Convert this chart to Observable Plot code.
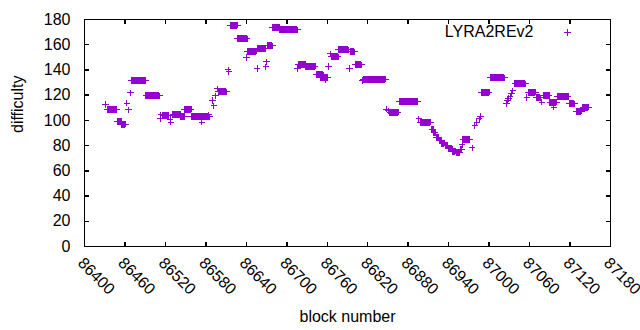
<!DOCTYPE html>
<html><head><meta charset="utf-8">
<script src="https://cdn.jsdelivr.net/npm/d3@7"></script>
<script src="https://cdn.jsdelivr.net/npm/@observablehq/plot@0.6"></script>
<style>html,body{margin:0;padding:0;background:#fff}</style>
</head><body><div id="chart"></div>
<script>
const seriesName = "LYRA2REv2";
const xLabel = "block number";
const yLabel = "difficulty";
const xTicks = [86400, 86460, 86520, 86580, 86640, 86700, 86760, 86820, 86880, 86940, 87000, 87060, 87120, 87180];
const yTicks = [0, 20, 40, 60, 80, 100, 120, 140, 160, 180];

// isolated blocks
const pointBlocks = [86431, 86463, 86465, 86468, 86512, 86513, 86527, 86528, 86574, 86584,
  86590, 86592, 86594, 86597, 86613, 86614, 86640, 86656, 86669, 86670,
  86716, 86757, 86762, 86765, 86793, 86812, 86848, 86851, 86896, 86960,
  86975, 86979, 86982, 86985, 86987, 87026, 87027, 87029, 87031, 87033,
  87035, 87056, 87078, 87096];
const pointValues = [112.5, 113.7, 108.4, 121.9, 101.5, 104.5, 101, 98.6, 98.6, 104.4,
  115.8, 111.5, 119.5, 125, 140, 138.5, 150, 141, 142.5, 146.5,
  141, 132, 142.7, 152.8, 141, 131.5, 109, 107.5, 101.2, 81,
  78.3, 96, 98.6, 101.2, 103.1, 113.5, 116, 117.5, 119, 121,
  123.5, 118, 114.5, 110.5];

// runs of consecutive blocks with the same difficulty
const runStarts = [86434, 86449, 86455, 86469, 86491, 86516, 86531, 86542, 86548, 86558,
  86598, 86616, 86627, 86641, 86657, 86671, 86679, 86689, 86717, 86727,
  86744, 86750, 86766, 86776, 86795, 86802, 86813, 86853, 86867, 86898,
  86915, 86918, 86922, 86926, 86930, 86935, 86940, 86946, 86951, 86957,
  86961, 86989, 87002, 87038, 87058, 87070, 87081, 87090, 87101, 87119,
  87129, 87139];
const runEnds = [86448, 86455, 86461, 86491, 86511, 86525, 86542, 86549, 86558, 86586,
  86611, 86627, 86641, 86655, 86668, 86679, 86689, 86716, 86727, 86742,
  86754, 86761, 86776, 86792, 86801, 86811, 86847, 86865, 86894, 86913,
  86917, 86920, 86925, 86929, 86934, 86939, 86945, 86950, 86956, 86959,
  86971, 87000, 87023, 87054, 87069, 87076, 87089, 87100, 87117, 87127,
  87137, 87148];
const runValues = [108.5, 99.5, 97, 131.5, 119.5, 104, 104.7, 103, 108.9, 102.8,
  122.7, 175.5, 164.7, 155, 156.8, 159, 174, 171.8, 144.5, 143,
  136, 134, 150.4, 156, 154.3, 144, 132.7, 106.5, 115, 98.5,
  93, 90.5, 86.5, 84, 82, 80, 77.5, 75.5, 74.5, 77,
  84.9, 122.4, 133.8, 129, 122.4, 117.9, 119.7, 114.5, 119, 113.2,
  107.3, 110.5];

const color = "#9400d3";
const points = pointBlocks.map((b, i) => ({block: b, value: pointValues[i]}));
const runs = runStarts.map((s, i) => ({start: s, end: runEnds[i], value: runValues[i]}));

const plus = {draw(ctx) { const r = 3.2; ctx.moveTo(-r, 0); ctx.lineTo(r, 0); ctx.moveTo(0, -r); ctx.lineTo(0, r); }};
const tl = 4.5;
const tickUp = {draw(ctx) { ctx.moveTo(0, 0); ctx.lineTo(0, -tl); }};
const tickDown = {draw(ctx) { ctx.moveTo(0, 0); ctx.lineTo(0, tl); }};
const tickRight = {draw(ctx) { ctx.moveTo(0, 0); ctx.lineTo(tl, 0); }};
const tickLeft = {draw(ctx) { ctx.moveTo(0, 0); ctx.lineTo(-tl, 0); }};

const chart = Plot.plot({
  width: 640,
  height: 330,
  marginLeft: 84,
  marginRight: 30,
  marginTop: 19,
  marginBottom: 84,
  style: {fontFamily: "'Liberation Sans', Arial, sans-serif", fontSize: "16px", color: "#000", background: "#fff"},
  x: {domain: [86400, 87180]},
  y: {domain: [0, 180]},
  marks: [
    Plot.ruleY(runs, {y: "value", x1: "start", x2: "end", stroke: color, strokeWidth: 7, shapeRendering: "crispEdges"}),
    Plot.dot(runs, {x: "start", y: "value", symbol: plus, stroke: color, fill: "none", strokeWidth: 1, shapeRendering: "crispEdges"}),
    Plot.dot(runs, {x: "end", y: "value", symbol: plus, stroke: color, fill: "none", strokeWidth: 1, shapeRendering: "crispEdges"}),
    Plot.dot(points, {x: "block", y: "value", symbol: plus, stroke: color, fill: "none", strokeWidth: 1, shapeRendering: "crispEdges"}),
    Plot.frame({stroke: "#000", strokeWidth: 1, shapeRendering: "crispEdges"}),
    Plot.dot(xTicks, {x: d => d, frameAnchor: "bottom", symbol: tickUp, stroke: "#000", fill: "none", shapeRendering: "crispEdges"}),
    Plot.dot(xTicks, {x: d => d, frameAnchor: "top", symbol: tickDown, stroke: "#000", fill: "none", shapeRendering: "crispEdges"}),
    Plot.dot(yTicks, {y: d => d, frameAnchor: "left", symbol: tickRight, stroke: "#000", fill: "none", shapeRendering: "crispEdges"}),
    Plot.dot(yTicks, {y: d => d, frameAnchor: "right", symbol: tickLeft, stroke: "#000", fill: "none", shapeRendering: "crispEdges"}),
    Plot.axisX({ticks: xTicks, tickSize: 0, tickPadding: 14, dx: -4, tickRotate: 45, tickFormat: d => String(d), label: null, fontSize: 16}),
    Plot.axisY({ticks: yTicks, tickSize: 0, tickPadding: 14, tickFormat: d => String(d), label: null, fontSize: 16}),
    Plot.text([xLabel], {text: d => d, frameAnchor: "bottom", lineAnchor: "middle", dy: 70, fontSize: 16, fill: "#000"}),
    Plot.text([yLabel], {text: d => d, frameAnchor: "left", lineAnchor: "middle", dx: -67, rotate: -90, fontSize: 16, fill: "#000"}),
    Plot.text([seriesName], {text: d => d, frameAnchor: "top-right", lineAnchor: "middle", dx: -77, dy: 12, textAnchor: "end", fontSize: 16, fill: "#000"}),
    Plot.dot([seriesName], {frameAnchor: "top-right", dx: -43, dy: 13, symbol: plus, stroke: color, fill: "none", shapeRendering: "crispEdges"})
  ]
});
document.getElementById("chart").appendChild(chart);
</script>
</body></html>
